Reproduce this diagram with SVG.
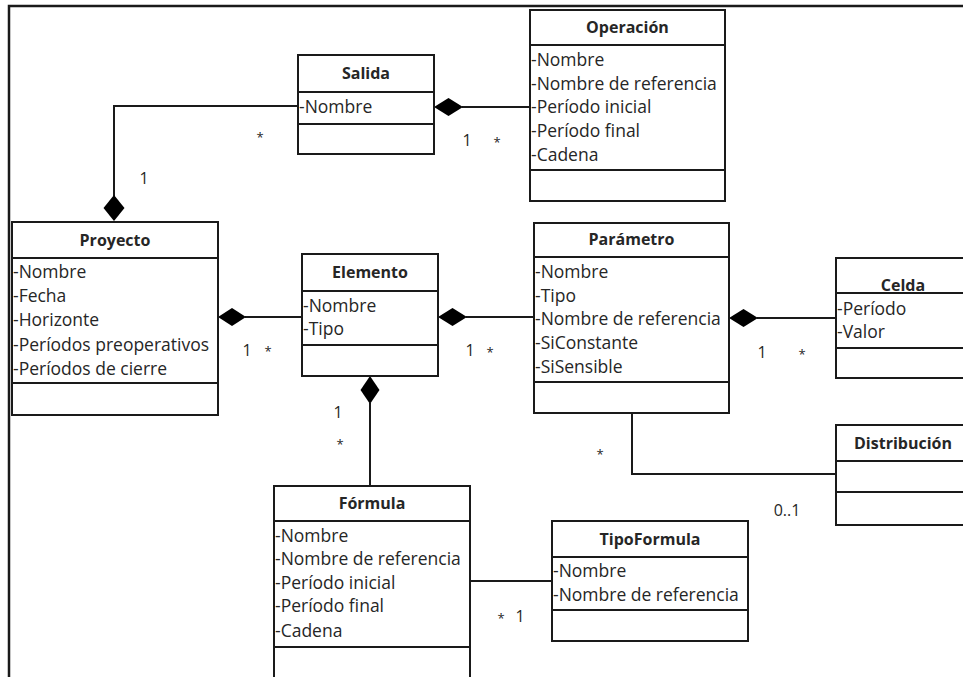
<svg xmlns="http://www.w3.org/2000/svg" width="963" height="677" viewBox="0 0 963 677">
  <style>
    .box { fill: #ffffff; stroke: #1a1a1a; stroke-width: 2; }
    .sep { stroke: #1a1a1a; stroke-width: 2; }
    .edge { fill: none; stroke: #1a1a1a; stroke-width: 2; }
    .frame { fill: none; stroke: #1a1a1a; stroke-width: 2.5; }
    .dia { fill: #000000; stroke: none; }
    .title { font-family: "Open Sans", "Liberation Sans", sans-serif; font-weight: bold; font-size: 16px; fill: #262626; text-anchor: middle; }
    .attr { font-family: "Open Sans", "Liberation Sans", sans-serif; font-size: 17.5px; fill: #262626; }
    .mult { font-family: "Open Sans", "Liberation Sans", sans-serif; font-size: 16px; fill: #262626; text-anchor: middle; }
    .star { font-family: "Open Sans", "Liberation Sans", sans-serif; font-size: 13px; fill: #262626; text-anchor: middle; }
  </style>

  <rect width="963" height="677" fill="#ffffff"/>

  <!-- outer frame (left and top edges) -->
  <polyline class="frame" points="9,677 9,6 963,6"/>

  <!-- associations -->
  <g id="connectors">
    <!-- Salida - Proyecto -->
    <polyline class="edge" points="298,106 114,106 114,196"/>
    <polygon class="dia" points="114,195 124.5,208 114,221 103.5,208"/>
    <!-- Salida - Operación -->
    <line class="edge" x1="462" y1="107" x2="530" y2="107"/>
    <polygon class="dia" points="434,107 448.5,98 463,107 448.5,116"/>
    <!-- Proyecto - Elemento -->
    <line class="edge" x1="245" y1="317" x2="302" y2="317"/>
    <polygon class="dia" points="218,317 232,308 246,317 232,326"/>
    <!-- Elemento - Parámetro -->
    <line class="edge" x1="466" y1="317" x2="534" y2="317"/>
    <polygon class="dia" points="438,317 452.5,308 467,317 452.5,326"/>
    <!-- Parámetro - Celda -->
    <line class="edge" x1="757" y1="318" x2="836" y2="318"/>
    <polygon class="dia" points="729,318 743.5,309 758,318 743.5,327"/>
    <!-- Elemento - Fórmula -->
    <line class="edge" x1="370" y1="403" x2="370" y2="486"/>
    <polygon class="dia" points="370,376 379.5,390 370,404 360.5,390"/>
    <!-- Parámetro - Distribución -->
    <polyline class="edge" points="632,413 632,474 836,474"/>
    <!-- Fórmula - TipoFormula -->
    <line class="edge" x1="470" y1="581" x2="552" y2="581"/>

    <!-- multiplicities -->
    <text class="star" x="260" y="142">*</text>
    <text class="mult" x="144" y="184">1</text>
    <text class="mult" x="467" y="146">1</text>
    <text class="star" x="497" y="147">*</text>
    <text class="mult" x="247" y="356">1</text>
    <text class="star" x="268" y="356">*</text>
    <text class="mult" x="470" y="356">1</text>
    <text class="star" x="490" y="357">*</text>
    <text class="mult" x="762" y="358">1</text>
    <text class="star" x="802" y="359">*</text>
    <text class="mult" x="338" y="418">1</text>
    <text class="star" x="340" y="449">*</text>
    <text class="star" x="600" y="459">*</text>
    <text class="mult" x="787" y="516">0..1</text>
    <text class="star" x="501" y="623">*</text>
    <text class="mult" x="520" y="622">1</text>
  </g>

  <g id="salida">
    <rect class="box" x="298" y="55" width="136" height="99"/>
    <line class="sep" x1="298" y1="92" x2="434" y2="92"/>
    <line class="sep" x1="298" y1="124" x2="434" y2="124"/>
    <text class="title" x="366" y="79">Salida</text>
    <text class="attr" x="299" y="113">-Nombre</text>
  </g>

  <g id="operacion">
    <rect class="box" x="530" y="10" width="195" height="191"/>
    <line class="sep" x1="530" y1="45" x2="725" y2="45"/>
    <line class="sep" x1="530" y1="170" x2="725" y2="170"/>
    <text class="title" x="627.5" y="33">Operación</text>
    <text class="attr" x="531" y="66">-Nombre</text>
    <text class="attr" x="531" y="89.5">-Nombre de referencia</text>
    <text class="attr" x="531" y="113">-Período inicial</text>
    <text class="attr" x="531" y="137">-Período final</text>
    <text class="attr" x="531" y="161">-Cadena</text>
  </g>

  <g id="proyecto">
    <rect class="box" x="12" y="222" width="206" height="193"/>
    <line class="sep" x1="12" y1="258" x2="218" y2="258"/>
    <line class="sep" x1="12" y1="383" x2="218" y2="383"/>
    <text class="title" x="115" y="245.5">Proyecto</text>
    <text class="attr" x="13" y="278">-Nombre</text>
    <text class="attr" x="13" y="302">-Fecha</text>
    <text class="attr" x="13" y="326">-Horizonte</text>
    <text class="attr" x="13" y="351">-Períodos preoperativos</text>
    <text class="attr" x="13" y="375">-Períodos de cierre</text>
  </g>

  <g id="elemento">
    <rect class="box" x="302" y="254" width="136" height="122"/>
    <line class="sep" x1="302" y1="291" x2="438" y2="291"/>
    <line class="sep" x1="302" y1="345" x2="438" y2="345"/>
    <text class="title" x="370" y="277.5">Elemento</text>
    <text class="attr" x="303" y="312">-Nombre</text>
    <text class="attr" x="303" y="335">-Tipo</text>
  </g>

  <g id="parametro">
    <rect class="box" x="534" y="223" width="195" height="190"/>
    <line class="sep" x1="534" y1="257" x2="729" y2="257"/>
    <line class="sep" x1="534" y1="382" x2="729" y2="382"/>
    <text class="title" x="631.5" y="244.5">Parámetro</text>
    <text class="attr" x="535" y="278">-Nombre</text>
    <text class="attr" x="535" y="302">-Tipo</text>
    <text class="attr" x="535" y="325">-Nombre de referencia</text>
    <text class="attr" x="535" y="349">-SiConstante</text>
    <text class="attr" x="535" y="373">-SiSensible</text>
  </g>

  <g id="celda">
    <rect class="box" x="836" y="258" width="134" height="120"/>
    <line class="sep" x1="836" y1="293" x2="970" y2="293"/>
    <line class="sep" x1="836" y1="348" x2="970" y2="348"/>
    <text class="title" x="903" y="290.5">Celda</text>
    <text class="attr" x="837" y="315">-Período</text>
    <text class="attr" x="837" y="338">-Valor</text>
  </g>

  <g id="distribucion">
    <rect class="box" x="836" y="425" width="134" height="100"/>
    <line class="sep" x1="836" y1="461" x2="970" y2="461"/>
    <line class="sep" x1="836" y1="492" x2="970" y2="492"/>
    <text class="title" x="903" y="448.5">Distribución</text>
  </g>

  <g id="formula">
    <rect class="box" x="274" y="486" width="196" height="200"/>
    <line class="sep" x1="274" y1="521" x2="470" y2="521"/>
    <line class="sep" x1="274" y1="647" x2="470" y2="647"/>
    <text class="title" x="372" y="508.5">Fórmula</text>
    <text class="attr" x="275" y="542">-Nombre</text>
    <text class="attr" x="275" y="565">-Nombre de referencia</text>
    <text class="attr" x="275" y="589">-Período inicial</text>
    <text class="attr" x="275" y="612">-Período final</text>
    <text class="attr" x="275" y="637">-Cadena</text>
  </g>

  <g id="tipoformula">
    <rect class="box" x="552" y="521" width="196" height="120"/>
    <line class="sep" x1="552" y1="557" x2="748" y2="557"/>
    <line class="sep" x1="552" y1="610" x2="748" y2="610"/>
    <text class="title" x="650" y="544.5">TipoFormula</text>
    <text class="attr" x="553" y="577">-Nombre</text>
    <text class="attr" x="553" y="601">-Nombre de referencia</text>
  </g>
</svg>
